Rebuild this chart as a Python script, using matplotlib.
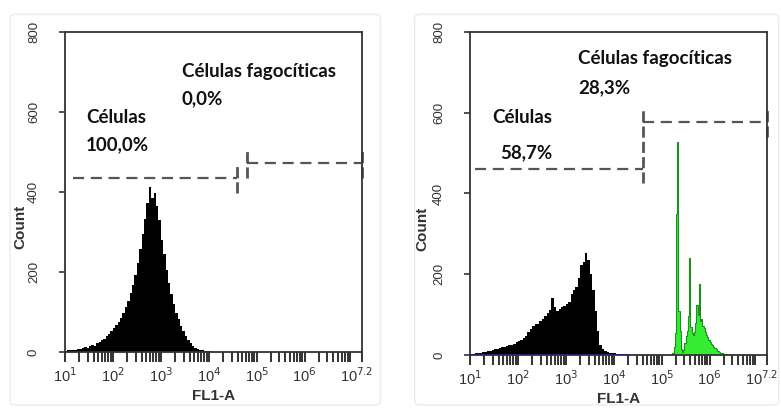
import numpy as np
import matplotlib
matplotlib.use('Agg')
import matplotlib.pyplot as plt
import matplotlib.transforms as mtransforms
from matplotlib.patches import FancyBboxPatch
from matplotlib.ticker import FixedLocator, LogLocator, NullFormatter

# --- data (counts per bin, log10 bins) ---
# panel A: control cells, bins of 0.05 decade starting at 10^1.0
cells_a_start, cells_a_step = 1.0, 0.05
cells_a = [3, 5, 4, 6, 5, 8, 7, 9, 12, 10, 14, 17, 15, 22, 26, 30,
           33, 40, 46, 52, 60, 68, 76, 85, 98, 112, 128, 148, 168, 192, 222, 258,
           295, 332, 372, 412, 385, 398, 365, 330, 280, 245, 205, 172, 145, 120, 98, 82,
           66, 52, 40, 30, 22, 16, 11, 8, 6, 4, 3, 2, 2, 1, 1, 1]

# panel B: non-phagocytic cells (black), bins of 0.05 decade starting at 10^1.0
cells_b_start, cells_b_step = 1.0, 0.05
cells_b = [2, 3, 4, 4, 6, 7, 8, 9, 11, 12, 14, 16, 17, 19, 20, 22,
           24, 26, 28, 31, 34, 38, 42, 48, 56, 64, 72, 76, 78, 84, 90, 96,
           104, 112, 142, 118, 108, 114, 118, 122, 126, 132, 150, 160, 168, 190, 222, 230,
           252, 236, 200, 160, 110, 60, 26, 14, 10, 8, 6, 5, 4, 3, 3, 2, 2, 1]

# panel B: phagocytic cells (green), bins of 0.025 decade starting at 10^5.2
phago_b_start, phago_b_step = 5.2, 0.025
phago_b = [0, 4, 20, 55, 350, 528, 110, 60, 14, 8, 12, 30, 48, 60, 96, 240,
           70, 55, 50, 56, 80, 125, 100, 175, 85, 90, 72, 66, 58, 50, 44, 38,
           33, 28, 24, 20, 17, 14, 11, 9, 7, 5, 4, 3, 2, 2, 1, 1]

# gates: (log10 start, log10 end, count level, which ends carry a marker)
gates_a = [(1.17, 4.59, 435, (False, True)), (4.80, 7.20, 472, (True, True))]
gates_b = [(1.10, 4.61, 460, (False, False)), (4.61, 7.20, 577, (False, True))]

labels_a = [('Células fagocíticas', 3.44, 700), ('0,0%', 3.44, 632),
            ('Células', 1.44, 587), ('100,0%', 1.44, 517)]
labels_b = [('Células fagocíticas', 3.25, 735), ('28,3%', 3.25, 663),
            ('Células', 1.46, 589), ('58,7%', 1.63, 502)]

x_ticks_log = [1, 2, 3, 4, 5, 6, 7.2]
x_tick_labels = ['10$^{1}$', '10$^{2}$', '10$^{3}$', '10$^{4}$',
                 '10$^{5}$', '10$^{6}$', '10$^{7.2}$']
y_ticks = [0, 200, 400, 600, 800]

axis_color = '#333333'
gate_color = '#555555'


def edges(start, step, n):
    return 10 ** (start + step * np.arange(n + 1))


def gate(ax, lo, hi, level, ends, half=37):
    ax.plot([10 ** lo, 10 ** hi], [level, level], color=gate_color, lw=1.6,
            ls=(0, (5, 3)))
    for xx, show in zip([lo, hi], ends):
        if show:
            ax.plot([10 ** xx, 10 ** xx], [level - half, level + half],
                    color=gate_color, lw=2.0, ls=(0, (4, 1.5)), clip_on=False)


def style_axes(ax, count_x):
    ax.set_xscale('log')
    ax.set_xlim(10 ** 1, 10 ** 7.2)
    ax.set_ylim(0, 800)
    ax.xaxis.set_major_locator(FixedLocator([10 ** v for v in x_ticks_log]))
    ax.set_xticklabels(x_tick_labels, family='Liberation Sans')
    ax.xaxis.set_minor_locator(LogLocator(base=10, subs=np.arange(2, 10), numticks=20))
    ax.xaxis.set_minor_formatter(NullFormatter())
    ax.set_yticks(y_ticks)
    ax.set_yticklabels([str(v) for v in y_ticks], rotation=90, va='center',
                       family='Liberation Sans')
    ax.tick_params(axis='x', which='both', direction='out', length=7.5, width=1.4,
                   colors=axis_color, labelsize=10.5, pad=3)
    ax.tick_params(axis='y', direction='out', length=4, width=1.2,
                   colors=axis_color, labelsize=9.5, pad=14)
    # nudge the last (10^7.2) label inwards a little
    last = ax.get_xticklabels()[-1]
    last.set_transform(last.get_transform() +
                       mtransforms.ScaledTranslation(-4 / 72, 0, ax.figure.dpi_scale_trans))
    for s in ax.spines.values():
        s.set_color(axis_color)
        s.set_linewidth(1.3)
    ax.set_xlabel('FL1-A', fontsize=11, fontweight='bold', color=axis_color,
                  labelpad=3, family='Liberation Sans')
    ax.set_ylabel('Count', fontsize=11, fontweight='bold', color=axis_color,
                  family='Liberation Sans')
    ax.yaxis.set_label_coords(count_x, 0.39)


def add_labels(ax, labels):
    for txt, lx, ly in labels:
        ax.text(10 ** lx, ly, txt, ha='left', va='center', fontsize=13.5,
                fontweight='bold', family='Lato', color='#111111')


fig = plt.figure(figsize=(7.81, 4.09), dpi=100, facecolor='white')

# faint frames around each panel
for x0, w in [(0.013, 0.474), (0.531, 0.466)]:
    fig.patches.append(FancyBboxPatch((x0, 0.01), w, 0.955,
                                      boxstyle='round,pad=0,rounding_size=0.008',
                                      transform=fig.transFigure, fill=False,
                                      edgecolor='#ececec', linewidth=1.0))

ax1 = fig.add_axes([0.0832, 0.1394, 0.3803, 0.7824])
ax2 = fig.add_axes([0.6018, 0.1320, 0.3803, 0.7898])

# panel A
ax1.stairs(cells_a, edges(cells_a_start, cells_a_step, len(cells_a)),
           fill=True, color='black', lw=0)
for g in gates_a:
    gate(ax1, *g)
add_labels(ax1, labels_a)
style_axes(ax1, -0.128)

# panel B
e_b = edges(cells_b_start, cells_b_step, len(cells_b))
ax2.stairs(cells_b, e_b, fill=True, color='black', lw=0)
ax2.plot([e_b[0], e_b[-1]], [0, 0], color='#1c1ca8', lw=2.0, zorder=3)
e_g = edges(phago_b_start, phago_b_step, len(phago_b))
ax2.stairs(phago_b, e_g, fill=True, color='#35ec35', lw=0)
ax2.stairs(phago_b, e_g, fill=False, color='#1e8f1e', lw=0.8)
for g in gates_b:
    gate(ax2, *g)
# shared divider between the two gates
div = 10 ** gates_b[0][1]
ax2.plot([div, div], [gates_b[0][2] - 35, gates_b[1][2] + 37],
         color=gate_color, lw=2.0, ls=(0, (4, 1.5)))
add_labels(ax2, labels_b)
style_axes(ax2, -0.138)

fig.savefig('out.png', dpi=100, facecolor='white')
